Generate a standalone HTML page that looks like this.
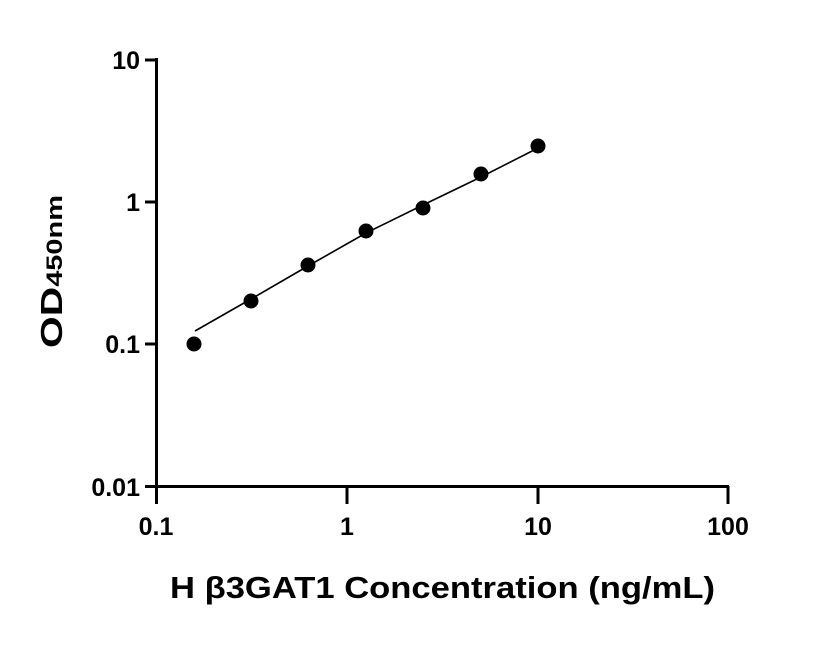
<!DOCTYPE html>
<html><head><style>body{margin:0;background:#fff}</style></head><body>
<svg width="816" height="640" viewBox="0 0 816 640" xmlns="http://www.w3.org/2000/svg" font-family="Liberation Sans, sans-serif" font-weight="bold">
<g stroke="#000" stroke-width="3" fill="none">
<line x1="156.5" y1="58" x2="156.5" y2="504"/>
<line x1="155" y1="486.5" x2="729" y2="486.5"/>
<line x1="145" y1="60" x2="156" y2="60"/>
<line x1="145" y1="202" x2="156" y2="202"/>
<line x1="145" y1="344" x2="156" y2="344"/>
<line x1="145" y1="486.5" x2="156" y2="486.5"/>
<line x1="347" y1="486" x2="347" y2="504"/>
<line x1="538" y1="486" x2="538" y2="504"/>
<line x1="728" y1="486" x2="728" y2="504"/>
</g>
<polyline fill="none" stroke="#000" stroke-width="1.6" points="195,331 251,299 308,266 366,233 423,205 481,177 540,147"/>
<g fill="#000">
<circle cx="194" cy="344" r="7.5"/><circle cx="251" cy="301" r="7.5"/><circle cx="308" cy="265" r="7.5"/><circle cx="366" cy="231" r="7.5"/><circle cx="423" cy="208" r="7.5"/><circle cx="481" cy="174" r="7.5"/><circle cx="538" cy="146" r="7.5"/>
</g>
<g font-size="25" text-anchor="end">
<text x="140" y="69">10</text><text x="140" y="211">1</text><text x="140" y="353">0.1</text><text x="140" y="496">0.01</text>
</g>
<g font-size="25" text-anchor="middle">
<text x="156" y="535">0.1</text><text x="347" y="535">1</text><text x="538" y="535">10</text><text x="728" y="535">100</text>
</g>
<text x="170" y="598" font-size="31" textLength="545" lengthAdjust="spacingAndGlyphs">H β3GAT1 Concentration (ng/mL)</text>
<text transform="translate(62,348) rotate(-90)" font-size="31" textLength="153" lengthAdjust="spacingAndGlyphs">OD<tspan font-size="22">450nm</tspan></text>
</svg>
</body></html>
